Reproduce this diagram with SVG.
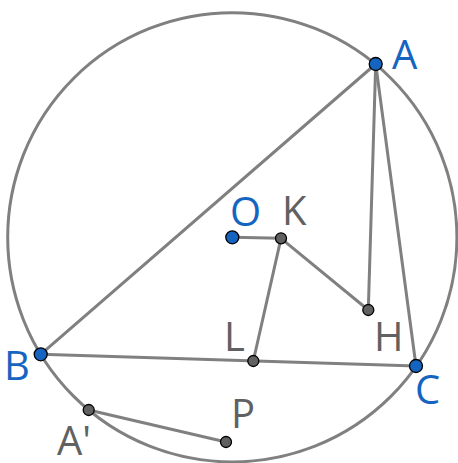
<svg xmlns="http://www.w3.org/2000/svg" width="458" height="463" viewBox="0 0 458 463">
<style>
.ln{stroke:#808080;stroke-width:3;fill:none;stroke-linecap:round}
.bp{fill:#1565c0;stroke:#000;stroke-width:1.3}
.gp{fill:#616161;stroke:#000;stroke-width:1.3}
.lb{font-family:"Open Sans","Noto Sans",sans-serif;font-size:40px}
.bl{fill:#1565c0}
.gl{fill:#616161}
</style>
<rect width="458" height="463" fill="#fff"/>
<g id="connectors">
<circle class="ln" cx="232.3" cy="237.3" r="224.6"/>
<line class="ln" x1="375.7" y1="64" x2="40.7" y2="354.3"/>
<line class="ln" x1="375.7" y1="64" x2="416" y2="366"/>
<line class="ln" x1="375.7" y1="64" x2="368.3" y2="310"/>
<line class="ln" x1="232.3" y1="237.3" x2="281" y2="238.3"/>
<line class="ln" x1="281" y1="238.3" x2="368.3" y2="310"/>
<line class="ln" x1="281" y1="238.3" x2="253.3" y2="361"/>
<line class="ln" x1="40.7" y1="354.3" x2="416" y2="366"/>
<line class="ln" x1="88.7" y1="410" x2="226" y2="442"/>
</g>
<g id="A"><circle class="bp" cx="375.7" cy="64" r="6.5"/><text class="lb bl" x="392" y="69">A</text></g>
<g id="B"><circle class="bp" cx="40.7" cy="354.3" r="6.5"/><text class="lb bl" x="4" y="380">B</text></g>
<g id="C"><circle class="bp" cx="416" cy="366" r="6.5"/><text class="lb bl" x="415" y="404">C</text></g>
<g id="O"><circle class="bp" cx="232.3" cy="237.3" r="6.5"/><text class="lb bl" x="230" y="226">O</text></g>
<g id="K"><circle class="gp" cx="281" cy="238.3" r="5.5"/><text class="lb gl" x="282" y="225">K</text></g>
<g id="H"><circle class="gp" cx="368.3" cy="310" r="5.5"/><text class="lb gl" x="374" y="351">H</text></g>
<g id="L"><circle class="gp" cx="253.3" cy="361" r="5.5"/><text class="lb gl" x="224" y="351">L</text></g>
<g id="A_prime"><circle class="gp" cx="88.7" cy="410" r="5.5"/><text class="lb gl" x="57" y="455">A'</text></g>
<g id="P"><circle class="gp" cx="226" cy="442" r="5.5"/><text class="lb gl" x="231" y="428">P</text></g>
</svg>
